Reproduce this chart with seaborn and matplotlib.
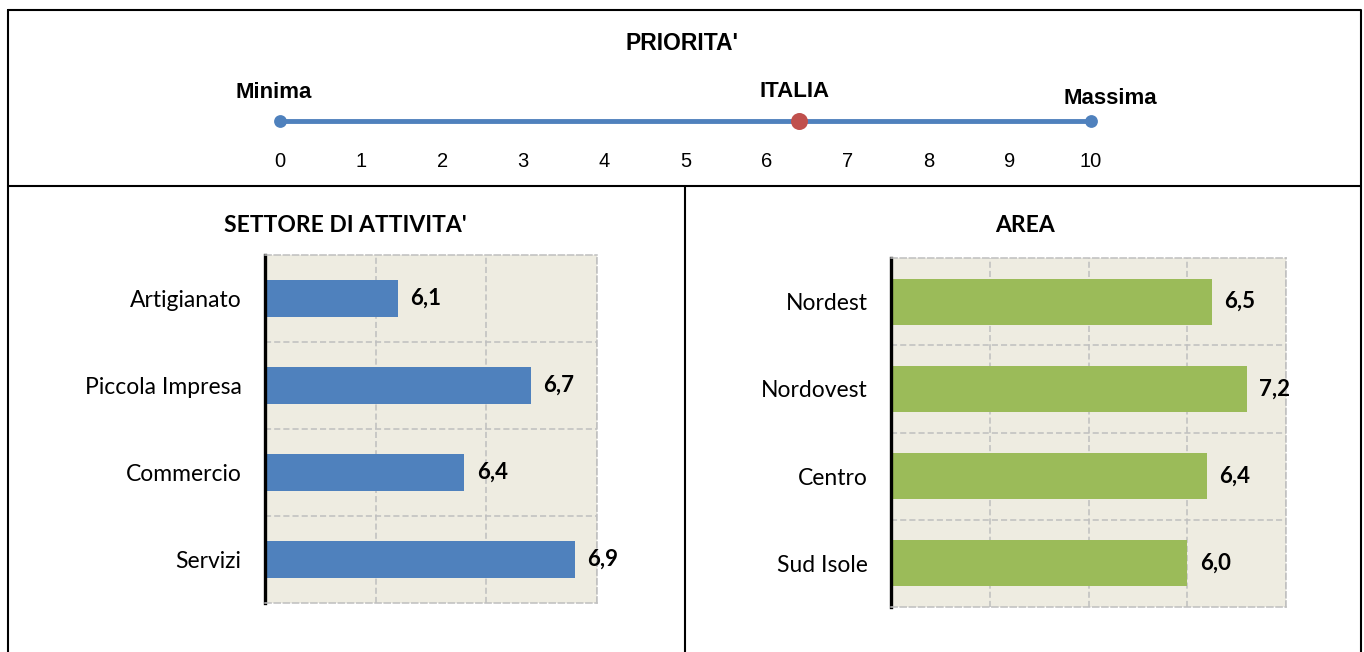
import matplotlib
matplotlib.use("Agg")
import matplotlib.pyplot as plt
from matplotlib.lines import Line2D
import seaborn as sns

# ---------------- data ----------------
scale_min = 0
scale_max = 10
scale_ticks = [0, 1, 2, 3, 4, 5, 6, 7, 8, 9, 10]
italia_value = 6.4

settore_labels = ["Artigianato", "Piccola Impresa", "Commercio", "Servizi"]
settore_values = [6.1, 6.7, 6.4, 6.9]

area_labels = ["Nordest", "Nordovest", "Centro", "Sud Isole"]
area_values = [6.5, 7.2, 6.4, 6.0]

# ---------------- style ----------------
sns.set_theme(style="white")
plt.rcParams["font.family"] = ["Lato", "DejaVu Sans"]
plt.rcParams["text.color"] = "black"
plt.rcParams["xtick.color"] = "black"
plt.rcParams["ytick.color"] = "black"
plt.rcParams["axes.labelcolor"] = "black"

W, H = 1364, 652
fig = plt.figure(figsize=(W / 100, H / 100), dpi=100)
fig.patch.set_facecolor("white")


def box(x0, y0, x1, y1):
    return [x0 / W, 1 - y1 / H, (x1 - x0) / W, (y1 - y0) / H]


def fline(xs, ys, lw=1.5):
    fig.add_artist(Line2D([x / W for x in xs], [1 - y / H for y in ys],
                          color="black", lw=lw, transform=fig.transFigure))


# frames
fline([8, 1361, 1361, 8, 8], [10, 10, 660, 660, 10])
fline([8, 1361], [186, 186])
fline([685, 685], [186, 660])

BLUE = "#4F81BD"
GREEN = "#9BBB59"
RED = "#C0504D"
ARIAL = ["Liberation Sans", "DejaVu Sans"]

# ---------------- top scale ----------------
ax0 = fig.add_axes(box(280, 100, 1091, 142))
ax0.set_xlim(scale_min, scale_max)
ax0.set_ylim(-1, 1)
sns.lineplot(x=[scale_min, scale_max], y=[0, 0], color=BLUE, lw=3.5, ax=ax0)
sns.scatterplot(x=[scale_min, scale_max], y=[0, 0], color=BLUE, s=85,
                linewidth=0, ax=ax0, zorder=3)
sns.scatterplot(x=[italia_value], y=[0], color=RED, s=150, linewidth=0,
                ax=ax0, zorder=4)
for c in ax0.collections:
    c.set_clip_on(False)
for l in ax0.lines:
    l.set_clip_on(False)
ax0.set_xticks(scale_ticks)
ax0.set_xticklabels([str(t) for t in scale_ticks], family=ARIAL, fontsize=14.5)
ax0.set_yticks([])
ax0.tick_params(axis="x", length=0, pad=7)
for s in ax0.spines.values():
    s.set_visible(False)
ax0.patch.set_alpha(0)

ax0.annotate("Minima", xy=(scale_min, 0), xytext=(-4.3, 20.5), textcoords="offset points",
             ha="center", va="center", fontsize=16, fontweight="bold", family=ARIAL)
ax0.annotate("ITALIA", xy=(italia_value, 0), xytext=(-2.9, 21), textcoords="offset points",
             ha="center", va="center", fontsize=16, fontweight="bold", family=ARIAL)
ax0.annotate("Massima", xy=(scale_max, 0), xytext=(13.7, 16), textcoords="offset points",
             ha="center", va="center", fontsize=16, fontweight="bold", family=ARIAL)

fig.text(682 / W, 1 - 44 / H, "PRIORITA'", ha="center", va="center",
         fontsize=16.5, fontweight="bold", family=ARIAL)


# ---------------- bar charts ----------------
def bar_panel(rect, labels, values, color, xlim, xticks, width, title, title_xy):
    ax = fig.add_axes(box(*rect))
    sns.barplot(x=values, y=labels, color=color, width=width, orient="h",
                saturation=1, linewidth=0, edgecolor="none", ax=ax)
    ax.set_facecolor("#EEECE1")
    ax.set_xlim(*xlim)
    ax.set_ylim(len(labels) - 0.5, -0.5)
    ax.set_xticks(xticks)
    ax.set_xticklabels([])
    ax.set_yticks(range(len(labels)))
    ax.set_yticklabels(labels, fontsize=16.5)
    ax.set_yticks([i + 0.5 for i in range(len(labels) - 1)], minor=True)
    ax.tick_params(axis="both", which="both", length=0)
    ax.tick_params(axis="y", pad=17)
    ax.set_xlabel("")
    ax.set_ylabel("")
    ax.set_axisbelow(True)
    ax.grid(axis="x", which="major", color="#BFBFBF", ls=(0, (4, 2)), lw=1.1)
    ax.grid(axis="y", which="minor", color="#BFBFBF", ls=(0, (4, 2)), lw=1.1)
    for side in ["top", "right", "bottom"]:
        ax.spines[side].set_color("#BFBFBF")
        ax.spines[side].set_linestyle((0, (4, 2)))
        ax.spines[side].set_linewidth(1.1)
    ax.spines["left"].set_color("black")
    ax.spines["left"].set_linewidth(2.4)
    for cont in ax.containers:
        txts = ax.bar_label(cont, labels=[f"{v:.1f}".replace(".", ",") for v in values],
                            padding=9, fontsize=16, fontweight="bold", clip_on=False)
        for t in txts:
            t.set_y(t.get_position()[1])
    fig.text(title_xy[0] / W, 1 - title_xy[1] / H, title, ha="center", va="center",
             fontsize=16.5, fontweight="bold")
    return ax


bar_panel((265, 255, 597, 603), settore_labels, settore_values, BLUE,
          (5.5, 7.0), [5.5, 6.0, 6.5, 7.0], 0.42, "SETTORE DI ATTIVITA'", (345, 225))
bar_panel((891, 258, 1286, 607), area_labels, area_values, GREEN,
          (0, 8), [0, 2, 4, 6, 8], 0.53, "AREA", (1025, 225))

fig.savefig("out.png", dpi=100)
